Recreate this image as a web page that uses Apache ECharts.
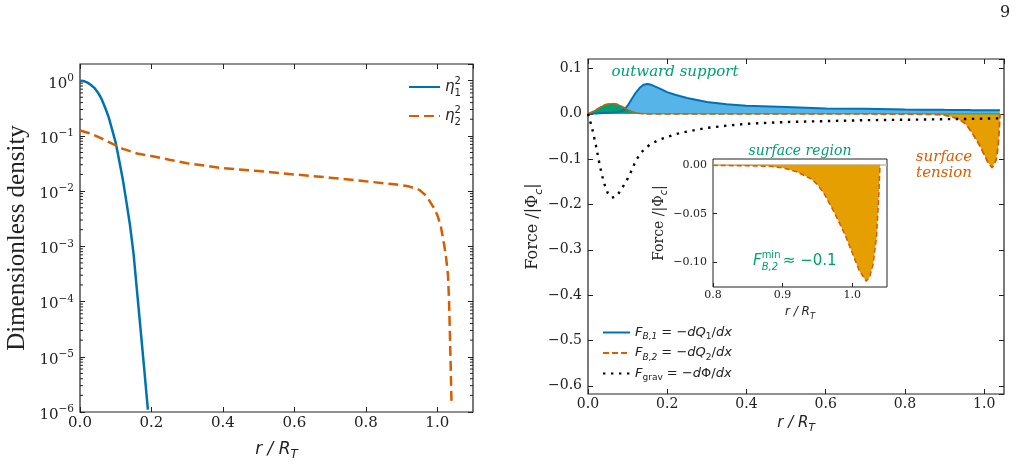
<!DOCTYPE html>
<html lang="en">
<head>
<meta charset="UTF-8" />
<title>Density profiles and forces</title>
<script src="https://cdn.jsdelivr.net/npm/echarts@6/dist/echarts.min.js"></script>
<style>
  html, body { margin: 0; padding: 0; background: #fff; }
  #chart { width: 1017px; height: 466px; }
</style>
</head>
<body>
<div id="chart"></div>
<script>
// left panel: densities (log axis)
var r1 = [0, 0.01, 0.02, 0.03, 0.04, 0.05, 0.06, 0.07, 0.08, 0.09, 0.10, 0.11, 0.12, 0.13, 0.14, 0.15, 0.16, 0.17, 0.18, 0.19];
var eta1 = [1.0, 0.98, 0.93, 0.84, 0.74, 0.61, 0.47, 0.33, 0.22, 0.13, 0.075, 0.035, 0.016, 0.0063, 0.0024, 7.2e-4, 1.45e-4, 2.9e-5, 5.8e-6, 1.1e-6];
var r2 = [0, 0.03, 0.06, 0.09, 0.12, 0.16, 0.20, 0.25, 0.30, 0.40, 0.50, 0.60, 0.70, 0.80, 0.88, 0.92, 0.95, 0.97, 0.99, 1.00, 1.01, 1.02, 1.025, 1.03, 1.033, 1.037, 1.04];
var eta2 = [0.125, 0.11, 0.09, 0.072, 0.058, 0.048, 0.043, 0.037, 0.032, 0.026, 0.023, 0.020, 0.0175, 0.015, 0.0133, 0.0122, 0.0105, 0.0081, 0.005, 0.0037, 0.0023, 0.001, 6e-4, 3e-4, 1e-4, 1e-5, 1.3e-6];

// right panel: forces
var rF = [0, 0.01, 0.02, 0.03, 0.04, 0.05, 0.06, 0.07, 0.08, 0.09, 0.10, 0.11, 0.12, 0.13, 0.14, 0.15, 0.16, 0.18, 0.20, 0.22, 0.25, 0.30, 0.35, 0.40, 0.50, 0.60, 0.70, 0.80, 0.85, 0.88, 0.90, 0.92, 0.94, 0.95, 0.96, 0.97, 0.98, 0.99, 1.00, 1.01, 1.02, 1.025, 1.03, 1.035, 1.038, 1.04];
var fB1 = [0, 0.0005, 0.001, 0.0015, 0.002, 0.0025, 0.003, 0.004, 0.005, 0.008, 0.018, 0.032, 0.046, 0.057, 0.064, 0.066, 0.064, 0.056, 0.048, 0.042, 0.035, 0.026, 0.021, 0.018, 0.015, 0.012, 0.011, 0.0098, 0.0093, 0.009, 0.0088, 0.0087, 0.0085, 0.0084, 0.0083, 0.0082, 0.0081, 0.008, 0.008, 0.0079, 0.0079, 0.0078, 0.0078, 0.0078, 0.0078, 0.0078];
var fB2 = [0, 0.004, 0.009, 0.014, 0.019, 0.0215, 0.0226, 0.022, 0.019, 0.014, 0.009, 0.005, 0.0025, 0.001, 0.0003, 0, 0, 0, 0, 0, 0, 0, 0, 0, 0, 0, -0.0002, -0.0005, -0.001, -0.0015, -0.003, -0.007, -0.014, -0.02, -0.03, -0.043, -0.057, -0.072, -0.09, -0.108, -0.119, -0.115, -0.102, -0.073, -0.035, 0];
var fGrav = [0, -0.03, -0.07, -0.115, -0.152, -0.175, -0.185, -0.183, -0.172, -0.158, -0.143, -0.125, -0.105, -0.09, -0.08, -0.072, -0.066, -0.057, -0.051, -0.045, -0.039, -0.031, -0.026, -0.022, -0.018, -0.016, -0.014, -0.013, -0.0125, -0.012, -0.0118, -0.0116, -0.0114, -0.0113, -0.0112, -0.0111, -0.011, -0.0108, -0.0106, -0.0104, -0.0102, -0.0101, -0.01, -0.01, -0.01, -0.01];

var SERIF = '"DejaVu Serif", serif';
var SANS = '"DejaVu Sans", sans-serif';
var INK = '#222';
var BLUE = '#0072B2', ORANGE = '#D55E00', GREEN = '#009E73', SKY = '#56B4E9', GOLD = '#E69F00';

function pairs(xs, ys) {
  return xs.map(function (x, i) { return [x, ys[i]]; });
}

// minor ticks of the log axis (2..9 per decade)
var minorVals = [];
for (var e = -6; e < 0; e++) {
  for (var m = 2; m <= 9; m++) minorVals.push(m * Math.pow(10, e));
}

var mathRich = {
  m: { fontFamily: SANS, fontStyle: 'italic', fontSize: 15, lineHeight: 22, color: INK },
  t: { fontFamily: SANS, fontSize: 15, lineHeight: 22, color: INK },
  p: { fontFamily: SANS, fontSize: 10, lineHeight: 10, verticalAlign: 'top', width: 0, color: INK },
  s: { fontFamily: SANS, fontSize: 10, lineHeight: 10, verticalAlign: 'bottom', color: INK }
};
var smallRich = {
  m: { fontFamily: SANS, fontStyle: 'italic', fontSize: 13, lineHeight: 18, color: INK },
  t: { fontFamily: SANS, fontSize: 13, lineHeight: 18, color: INK },
  s: { fontFamily: SANS, fontStyle: 'italic', fontSize: 9, lineHeight: 9, verticalAlign: 'bottom', color: INK },
  u: { fontFamily: SANS, fontSize: 9, lineHeight: 9, verticalAlign: 'bottom', color: INK }
};
var legendText = {
  'η₁²': '{m|η}{p|2}{s|1}',
  'η₂²': '{m|η}{p|2}{s|2}',
  'F_B,1': '{m|F}{s|B,1}{t| = −}{m|dQ}{u|1}{t|/}{m|dx}',
  'F_B,2': '{m|F}{s|B,2}{t| = −}{m|dQ}{u|2}{t|/}{m|dx}',
  'F_grav': '{m|F}{u|grav}{t| = −}{m|d}{t|Φ/}{m|dx}'
};

function axisBase(extra) {
  return Object.assign({
    type: 'value',
    axisLine: { show: false, onZero: false },
    axisTick: { show: true, inside: true, length: 5, lineStyle: { color: INK, width: 1 } },
    splitLine: { show: false },
    axisLabel: { show: false }
  }, extra);
}
function numLabel(size, digits, margin, hideMin) {
  return {
    show: true, showMinLabel: !hideMin, showMaxLabel: false, margin: margin,
    fontFamily: SERIF, fontSize: size, color: INK,
    formatter: function (v) {
      if (Math.abs(v) < 1e-9) v = 0;
      return (v < 0 ? '−' : '') + Math.abs(v).toFixed(digits);
    }
  };
}
var rName = '{i|r / R}{s|T}';
function rNameStyle(size) {
  return {
    rich: {
      i: { fontFamily: SANS, fontStyle: 'italic', fontSize: size, lineHeight: size + 6, color: INK },
      s: { fontFamily: SANS, fontStyle: 'italic', fontSize: size * 0.7, lineHeight: size * 0.7, verticalAlign: 'bottom', color: INK }
    }
  };
}
function forceNameStyle(size) {
  return {
    rich: {
      f: { fontFamily: SERIF, fontSize: size, lineHeight: size + 6, color: INK },
      s: { fontFamily: SANS, fontStyle: 'italic', fontSize: size * 0.7, lineHeight: size * 0.7, verticalAlign: 'bottom', color: INK }
    }
  };
}
var forceName = '{f|Force /|Φ}{s|c}{f||}';

var chart = echarts.init(document.getElementById('chart'));

chart.setOption({
  animation: false,
  backgroundColor: '#fff',
  grid: [
    { left: 80, top: 64, width: 393, height: 349, show: true, borderColor: INK, borderWidth: 1.2, backgroundColor: 'transparent' },
    { left: 588, top: 59, width: 416, height: 335, show: true, borderColor: INK, borderWidth: 1.2, backgroundColor: 'transparent' },
    { left: 713, top: 159, width: 174, height: 128, show: true, borderColor: INK, borderWidth: 1, backgroundColor: '#fff' }
  ],
  xAxis: [
    axisBase({ gridIndex: 0, min: 0, max: 1.1, interval: 0.2, position: 'bottom',
      axisLabel: numLabel(15, 1, 4, false),
      name: rName, nameLocation: 'middle', nameGap: 26, nameTextStyle: rNameStyle(17) }),
    axisBase({ gridIndex: 0, min: 0, max: 1.1, interval: 0.2, position: 'top' }),
    axisBase({ gridIndex: 1, min: 0, max: 1.05, interval: 0.2, position: 'bottom',
      axisLabel: numLabel(14, 1, 3, false),
      name: rName, nameLocation: 'middle', nameGap: 17, nameTextStyle: rNameStyle(15) }),
    axisBase({ gridIndex: 1, min: 0, max: 1.05, interval: 0.2, position: 'top' }),
    axisBase({ gridIndex: 2, min: 0.8, max: 1.05, interval: 0.1, position: 'bottom',
      axisTick: { show: true, inside: true, length: 4, lineStyle: { color: INK, width: 1 } },
      axisLabel: numLabel(11, 1, 3, false),
      name: rName, nameLocation: 'middle', nameGap: 16, nameTextStyle: rNameStyle(12) })
  ],
  yAxis: [
    axisBase({ type: 'log', logBase: 10, gridIndex: 0, min: 1e-6, max: 2, position: 'left',
      axisLabel: {
        show: true, showMaxLabel: false, margin: 6, padding: [6, 0, 0, 0], color: INK,
        formatter: function (v) {
          var p = Math.round(Math.log10(v));
          return '{b|10}{e|' + (p < 0 ? '−' + (-p) : p) + '}';
        },
        rich: {
          b: { fontFamily: SERIF, fontSize: 15, lineHeight: 22, color: INK },
          e: { fontFamily: SERIF, fontSize: 10.5, lineHeight: 10, verticalAlign: 'top', color: INK }
        }
      },
      name: 'Dimensionless density', nameLocation: 'middle', nameGap: 50,
      nameTextStyle: { fontFamily: '"Liberation Serif", serif', fontSize: 25, color: INK } }),
    axisBase({ type: 'log', logBase: 10, gridIndex: 0, min: 1e-6, max: 2, position: 'right' }),
    axisBase({ gridIndex: 1, min: -0.618, max: 0.121, splitNumber: 7, position: 'left',
      axisLabel: numLabel(14, 1, 6, true),
      name: forceName, nameLocation: 'middle', nameGap: 39, nameTextStyle: forceNameStyle(16) }),
    axisBase({ gridIndex: 1, min: -0.618, max: 0.121, splitNumber: 7, position: 'right' }),
    axisBase({ gridIndex: 2, min: -0.125, max: 0.006, splitNumber: 3, position: 'left',
      axisTick: { show: true, inside: true, length: 4, lineStyle: { color: INK, width: 1 } },
      axisLabel: numLabel(11, 2, 6, true),
      name: forceName, nameLocation: 'middle', nameGap: 43, nameTextStyle: forceNameStyle(14) })
  ],
  legend: [
    { left: 403, top: 71, orient: 'vertical', itemWidth: 31, itemHeight: 14, itemGap: 7,
      selectedMode: false, data: ['η₁²', 'η₂²'], itemStyle: { opacity: 0 },
      formatter: function (n) { return legendText[n]; },
      textStyle: { rich: mathRich } },
    { left: 597, top: 321, orient: 'vertical', itemWidth: 27, itemHeight: 14, itemGap: 5,
      selectedMode: false, data: ['F_B,1', 'F_B,2', 'F_grav'], itemStyle: { opacity: 0 },
      formatter: function (n) { return legendText[n]; },
      textStyle: { rich: smallRich } }
  ],
  graphic: [
    { type: 'text', left: 1000, top: 5, style: { text: '9', font: '16px "DejaVu Serif"', fill: INK } },
    { type: 'text', x: 675, y: 72, style: { text: 'outward support', font: 'italic 15px "DejaVu Serif"', fill: GREEN, align: 'center', verticalAlign: 'middle' } },
    { type: 'text', x: 800, y: 151, style: { text: 'surface region', font: 'italic 14px "DejaVu Serif"', fill: GREEN, align: 'center', verticalAlign: 'middle' } },
    { type: 'text', x: 944, y: 157, style: { text: 'surface', font: 'italic 15px "DejaVu Serif"', fill: ORANGE, align: 'center', verticalAlign: 'middle' } },
    { type: 'text', x: 944, y: 173, style: { text: 'tension', font: 'italic 15px "DejaVu Serif"', fill: ORANGE, align: 'center', verticalAlign: 'middle' } },
    { type: 'text', x: 753, y: 250, style: {
        text: '{m|F}{p|min}{s|B,2}{t| ≈ −0.1}',
        rich: {
          m: { fontFamily: SANS, fontStyle: 'italic', fontSize: 15, lineHeight: 22, fill: GREEN },
          t: { fontFamily: SANS, fontSize: 15, lineHeight: 22, fill: GREEN },
          p: { fontFamily: SANS, fontSize: 10, lineHeight: 10, verticalAlign: 'top', width: 0, fill: GREEN },
          s: { fontFamily: SANS, fontStyle: 'italic', fontSize: 10, lineHeight: 10, verticalAlign: 'bottom', fill: GREEN }
        } } }
  ],
  series: [
    // left panel
    { name: 'η₁²', type: 'line', xAxisIndex: 0, yAxisIndex: 0, data: pairs(r1, eta1),
      symbol: 'none', clip: true, lineStyle: { color: BLUE, width: 2.5 }, itemStyle: { color: BLUE } },
    { name: 'η₂²', type: 'line', xAxisIndex: 0, yAxisIndex: 0, data: pairs(r2, eta2),
      symbol: 'none', clip: true, lineStyle: { color: ORANGE, width: 2.5, type: [10, 5] }, itemStyle: { color: ORANGE } },
    { type: 'custom', xAxisIndex: 0, yAxisIndex: 0, silent: true, clip: false, z: 5,
      data: minorVals.map(function (v) { return [0, v]; }),
      renderItem: function (params, api) {
        var a = api.coord([0, api.value(1)]);
        var b = api.coord([1.1, api.value(1)]);
        var st = { stroke: INK, lineWidth: 1 };
        return { type: 'group', children: [
          { type: 'line', shape: { x1: a[0], y1: a[1], x2: a[0] + 3, y2: a[1] }, style: st },
          { type: 'line', shape: { x1: b[0], y1: b[1], x2: b[0] - 3, y2: b[1] }, style: st }
        ] };
      } },
    // right panel fills
    { type: 'line', xAxisIndex: 2, yAxisIndex: 2, data: pairs(rF, fB1), symbol: 'none', silent: true, z: 1,
      lineStyle: { width: 0 }, areaStyle: { color: SKY, opacity: 1 } },
    { type: 'line', xAxisIndex: 2, yAxisIndex: 2, silent: true, z: 1, symbol: 'none',
      data: pairs(rF, fB2.map(function (v) { return Math.max(v, 0); })),
      lineStyle: { color: GREEN, width: 1 }, areaStyle: { color: GREEN, opacity: 1 } },
    { type: 'line', xAxisIndex: 2, yAxisIndex: 2, silent: true, z: 1, symbol: 'none',
      data: pairs(rF, fB2.map(function (v) { return Math.min(v, 0); })),
      lineStyle: { width: 0 }, areaStyle: { color: GOLD, opacity: 1 } },
    // right panel lines
    { name: 'F_B,1', type: 'line', xAxisIndex: 2, yAxisIndex: 2, data: pairs(rF, fB1), symbol: 'none', z: 3,
      lineStyle: { color: BLUE, width: 2 }, itemStyle: { color: BLUE } },
    { name: 'F_B,2', type: 'line', xAxisIndex: 2, yAxisIndex: 2, data: pairs(rF, fB2), symbol: 'none', z: 4,
      lineStyle: { color: ORANGE, width: 1.8, type: [6, 3] }, itemStyle: { color: ORANGE } },
    { name: 'F_grav', type: 'line', xAxisIndex: 2, yAxisIndex: 2, data: pairs(rF, fGrav), symbol: 'none', z: 4,
      lineStyle: { color: '#000', width: 2.4, type: [2.4, 5.6] }, itemStyle: { color: '#000' } },
    // inset
    { type: 'line', xAxisIndex: 4, yAxisIndex: 4, data: pairs(rF, fB2), symbol: 'none', clip: true, z: 6, silent: true,
      lineStyle: { width: 0 }, areaStyle: { color: GOLD, opacity: 1 },
      markLine: { silent: true, symbol: 'none', label: { show: false },
        lineStyle: { color: '#bbb', type: 'solid', width: 1.5 }, data: [{ yAxis: 0 }] } },
    { type: 'line', xAxisIndex: 4, yAxisIndex: 4, data: pairs(rF, fB2), symbol: 'none', clip: true, z: 7, silent: true,
      lineStyle: { color: ORANGE, width: 1.5, type: [5, 3] } }
  ]
});
</script>
</body>
</html>
